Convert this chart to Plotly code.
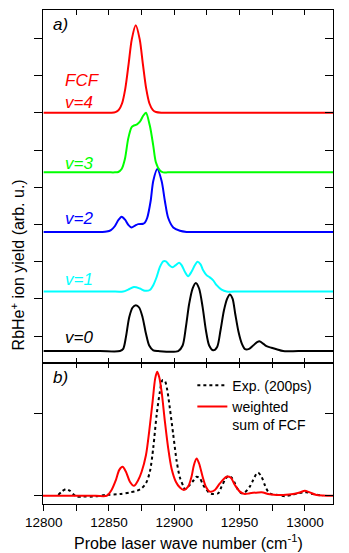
import plotly.graph_objects as go

FONT = "Liberation Sans, Arial, Helvetica, sans-serif"

# ---------------- axis values ----------------
WN_RANGE = [12799.5, 13021.5]
X_TICKS = [12800, 12825, 12850, 12875, 12900, 12925, 12950, 12975, 13000]
X_LABEL_TICKS = [12800, 12850, 12900, 12950, 13000]
X_TICK_TEXT = ["12800", "12850", "12900", "12950", "13000"]
YA_TICKS = [1, 2, 3, 4, 5, 6, 7, 8, 9]
YB_TICKS = [0, 1]
YA_RANGE = [0.274, 9.761]
YB_RANGE = [-0.10, 1.604]

# ---------------- panel a: FCF curves (height above own baseline) ----------------
v0_wn = [12800, 12843, 12858.4, 12860.9, 12863, 12865.5, 12868.1, 12870.6, 12873.1, 12875.7,
         12878.3, 12880.8, 12883.9, 12887.7, 12903, 12906.4, 12908.9, 12911.4, 12914, 12916.5,
         12919, 12921.7, 12924.2, 12926.7, 12929.8, 12932.8, 12935.4, 12938, 12940.5, 12942.5,
         12944.6, 12946.6, 12949.2, 12951.7, 12954.2, 12957.3, 12960.4, 12963.4, 12965.5, 12968,
         12970.6, 12974.4, 12978.3, 12983.3, 12995, 13021.5]
v0_h = [0, 0, 0, 0.06, 0.38, 0.91, 1.17, 1.23, 1.17, 0.91,
        0.47, 0.15, 0.02, 0, 0, 0.15, 0.65, 1.27, 1.68, 1.83,
        1.68, 1.18, 0.56, 0.15, 0.02, 0.11, 0.56, 1.09, 1.41, 1.52,
        1.41, 1.01, 0.51, 0.20, 0.05, 0.06, 0.15, 0.24, 0.26, 0.20,
        0.13, 0.09, 0.05, 0, 0, 0]

v1_wn = [12800, 12850.7, 12860.9, 12864.7, 12869.1, 12873.7, 12877.5, 12881.3, 12883.9, 12886.5,
         12889, 12891.5, 12893.6, 12896.1, 12898.7, 12901.2, 12903.7, 12905.6, 12908.1, 12910.6,
         12913.2, 12915.8, 12917.8, 12920.1, 12922.1, 12924.7, 12927.2, 12929.8, 12932.4, 12936.2,
         12940, 12950, 13021.5]
v1_h = [0, 0, 0, 0.05, 0.12, 0.08, 0.02, 0.04, 0.17, 0.39,
        0.66, 0.81, 0.81, 0.71, 0.65, 0.71, 0.77, 0.71, 0.53, 0.41,
        0.53, 0.71, 0.80, 0.73, 0.57, 0.44, 0.38, 0.30, 0.17, 0.05,
        0, 0, 0]

v2_wn = [12800, 12840, 12845, 12848.2, 12851.5, 12854.6, 12857.2, 12859.7, 12862.3, 12864.8,
         12867.3, 12870, 12872.4, 12876.2, 12877.5, 12879.3, 12881.9, 12883.9, 12887, 12890.3,
         12892.8, 12895.3, 12899.2, 12904.3, 12909.4, 12915, 13021.5]
v2_h = [0, 0, 0, 0.01, 0.05, 0.16, 0.32, 0.41, 0.33, 0.19,
        0.12, 0.17, 0.21, 0.22, 0.25, 0.38, 0.83, 1.37, 1.69, 1.37,
        0.83, 0.38, 0.12, 0.03, 0, 0, 0]

v3_wn = [12800, 12845, 12850, 12854.5, 12857.1, 12859.7, 12862.2, 12864.7, 12867.3, 12868.6,
         12871.2, 12873.7, 12876.2, 12878.3, 12881.3, 12883.9, 12885.9, 12889, 12891.5, 12895,
         12900, 13021.5]
v3_h = [0, 0, 0, 0, 0.01, 0.09, 0.36, 0.90, 1.21, 1.25,
        1.28, 1.36, 1.52, 1.60, 1.25, 0.72, 0.27, 0.05, 0, 0,
        0, 0]

v4_wn = [12800, 12840, 12848, 12852, 12855, 12857.5, 12860, 12862.5, 12865, 12867.5,
         12870.5, 12873.5, 12876, 12878.5, 12881, 12883.5, 12886, 12890, 12895, 13021.5]
v4_h = [0, 0, 0, 0, 0.02, 0.08, 0.25, 0.65, 1.30, 1.98,
        2.35, 1.98, 1.30, 0.65, 0.25, 0.08, 0.02, 0, 0, 0]

FCF_LABELS = ["v=0", "v=1", "v=2", "v=3", "v=4"]
FCF_SERIES = [(v0_wn, v0_h), (v1_wn, v1_h), (v2_wn, v2_h), (v3_wn, v3_h), (v4_wn, v4_h)]
FCF_OFFSETS = [0.6, 2.2, 3.8, 5.4, 7.0]
FCF_COLORS = ["#000000", "#00FFFF", "#0000FF", "#00FF00", "#FF0000"]
FCF_LABEL_Y = [0.97, 2.53, 4.17, 5.65, 7.29]

# ---------------- panel b ----------------
sum_wn = [12799.5, 12840, 12848.2, 12852.0, 12855.3, 12857.8, 12860.4, 12863.0, 12866.0, 12869.1,
          12872.4, 12875.0, 12878.3, 12880.8, 12883.4, 12885.4, 12886.9, 12888.4, 12890.3, 12892.8,
          12895.3, 12897.9, 12901.2, 12904.3, 12907.3, 12910.6, 12913.2, 12915.0, 12917.1, 12919.0,
          12921.7, 12924.2, 12927.2, 12931.1, 12934.9, 12940.0, 12943.1, 12946.4, 12950.2, 12954.0,
          12957.8, 12964.2, 12968.0, 12971.8, 12978.3, 12983.3, 12991.0, 12996.1, 12999.9, 13003.7,
          13008.9, 13021.5]
sum_y = [0, 0, 0, 0.07, 0.19, 0.31, 0.35, 0.29, 0.17, 0.12,
         0.19, 0.29, 0.49, 0.78, 1.14, 1.42, 1.50, 1.44, 1.26, 0.90,
         0.58, 0.33, 0.17, 0.10, 0.07, 0.11, 0.23, 0.37, 0.45, 0.39,
         0.23, 0.11, 0.05, 0.07, 0.15, 0.23, 0.22, 0.13, 0.05, 0.02,
         0.03, 0.04, 0.04, 0.02, 0.01, 0.01, 0.02, 0.04, 0.06, 0.04,
         0.01, 0]

exp_wn = [12811.2, 12813.8, 12817.1, 12820.1, 12822.6, 12825.2, 12830.3, 12837.9, 12848.2, 12858.4,
          12866.0, 12871.2, 12875.0, 12878.3, 12881.3, 12883.9, 12886.5, 12889.0, 12891.0, 12892.8,
          12894.6, 12896.6, 12899.2, 12901.8, 12904.3, 12906.8, 12908.1, 12910.6, 12914.0, 12917.1,
          12919.6, 12922.1, 12924.7, 12927.2, 12929.8, 12933.6, 12936.2, 12938.7, 12941.2, 12943.8,
          12946.4, 12948.9, 12951.5, 12954.0, 12957.8, 12960.4, 12963.0, 12964.2, 12966.8, 12969.3,
          12971.8, 12974.4, 12979.5, 12984.6, 12989.7, 12994.8, 12998.6, 13002.4, 13006.3, 13010.1,
          13013.9]
exp_y = [0.01, 0.05, 0.08, 0.06, 0.02, -0.01, -0.01, -0.01, 0.01, 0.02,
         0.04, 0.06, 0.09, 0.15, 0.29, 0.58, 0.98, 1.26, 1.40, 1.39,
         1.28, 1.06, 0.74, 0.42, 0.22, 0.12, 0.08, 0.11, 0.17, 0.23,
         0.21, 0.13, 0.07, 0.03, 0.02, 0.03, 0.11, 0.19, 0.24, 0.22,
         0.15, 0.07, 0.03, 0.04, 0.11, 0.19, 0.27, 0.28, 0.23, 0.13,
         0.05, 0.02, 0.01, -0.005, 0.01, 0.03, 0.04, 0.04, 0.02, 0.01,
         0]

fig = go.Figure()

for (wn, h), off, col in zip(FCF_SERIES, FCF_OFFSETS, FCF_COLORS):
    fig.add_trace(go.Scatter(x=wn, y=[v + off for v in h], mode="lines",
                             line=dict(color=col, width=2, shape="spline", smoothing=0.8),
                             xaxis="x2", yaxis="y", showlegend=False, hoverinfo="skip"))

fig.add_trace(go.Scatter(x=exp_wn, y=exp_y, mode="lines", name="Exp. (200ps)",
                         line=dict(color="black", width=2, dash="dot", shape="spline", smoothing=0.8),
                         xaxis="x", yaxis="y2"))
fig.add_trace(go.Scatter(x=sum_wn, y=sum_y, mode="lines", name="weighted<br>sum of FCF",
                         line=dict(color="#FF0000", width=2, shape="spline", smoothing=0.8),
                         xaxis="x", yaxis="y2"))

# empty traces to instantiate overlay (mirror-tick) axes
fig.add_trace(go.Scatter(x=[None], y=[None], xaxis="x2", yaxis="y3", showlegend=False, hoverinfo="skip"))
fig.add_trace(go.Scatter(x=[None], y=[None], xaxis="x", yaxis="y4", showlegend=False, hoverinfo="skip"))
fig.add_trace(go.Scatter(x=[None], y=[None], xaxis="x3", yaxis="y2", showlegend=False, hoverinfo="skip"))

YB = 0.285
common = dict(showgrid=False, zeroline=False, linecolor="black", linewidth=1.3,
              tickcolor="black", tickwidth=1)

# the page body adds an 8px margin, so the figure is sized to fit the 349x553 window
fig.update_layout(
    width=341, height=545,
    margin=dict(l=35, r=16, t=2, b=49),
    paper_bgcolor="white", plot_bgcolor="white",
    font=dict(family=FONT, color="black", size=13.5),
    xaxis=dict(domain=[0, 1], anchor="y2", range=WN_RANGE, tickmode="array",
               tickvals=X_LABEL_TICKS, ticktext=X_TICK_TEXT, ticks="outside", ticklen=6,
               minor=dict(tickmode="array", tickvals=X_TICKS, ticks="outside", ticklen=6,
                          tickcolor="black", tickwidth=1, showgrid=False),
               showline=True, tickfont=dict(size=13.5), **common),
    xaxis3=dict(overlaying="x", anchor="y2", side="top", range=WN_RANGE, tickmode="array",
                tickvals=X_TICKS, ticks="inside", ticklen=5, showticklabels=False,
                showline=True, **common),
    xaxis2=dict(domain=[0, 1], anchor="y", range=WN_RANGE, tickmode="array",
                tickvals=X_TICKS, ticks="inside", ticklen=5, mirror="ticks",
                showline=True, showticklabels=False, **common),
    yaxis=dict(domain=[YB, 1], anchor="x2", range=YA_RANGE, tickmode="array",
               tickvals=YA_TICKS, ticks="outside", ticklen=8, showticklabels=False,
               showline=True, mirror=True, **common),
    yaxis3=dict(overlaying="y", anchor="x2", side="right", range=YA_RANGE, tickmode="array",
                tickvals=YA_TICKS, ticks="inside", ticklen=8, showticklabels=False,
                showline=True, **common),
    yaxis2=dict(domain=[0, YB], anchor="x", range=YB_RANGE, tickmode="array",
                tickvals=YB_TICKS, ticks="outside", ticklen=8, showticklabels=False,
                showline=True, mirror=True, **common),
    yaxis4=dict(overlaying="y2", anchor="x", side="right", range=YB_RANGE, tickmode="array",
                tickvals=YB_TICKS, ticks="inside", ticklen=8, showticklabels=False,
                showline=True, **common),
    legend=dict(x=0.515, y=0.272, xanchor="left", yanchor="top", bgcolor="rgba(0,0,0,0)",
                font=dict(size=14, family=FONT), valign="top", tracegroupgap=0,
                itemwidth=30),
)

ann = []
ann.append(dict(text="<i>a)</i>", x=12806, y=9.36, xref="x2", yref="y", showarrow=False,
                xanchor="left", yanchor="middle", font=dict(size=17, color="black")))
ann.append(dict(text="<i>b)</i>", x=12806, y=1.43, xref="x", yref="y2", showarrow=False,
                xanchor="left", yanchor="middle", font=dict(size=17, color="black")))
ann.append(dict(text="<i>FCF</i>", x=12814.5, y=7.88, xref="x2", yref="y", showarrow=False,
                xanchor="left", yanchor="middle", font=dict(size=17, color="#FF0000")))
for lab, ly, col in zip(FCF_LABELS, FCF_LABEL_Y, FCF_COLORS):
    ann.append(dict(text="<i>" + lab + "</i>", x=12814.5, y=ly, xref="x2", yref="y",
                    showarrow=False, xanchor="left", yanchor="middle",
                    font=dict(size=17, color=col)))
ann.append(dict(text="Probe laser wave number (cm<sup>-1</sup>)", x=0.5, y=-0.0763,
                xref="paper", yref="paper", showarrow=False, xanchor="center",
                yanchor="middle", font=dict(size=16)))
ann.append(dict(text="RbHe<sup>+</sup> ion yield (arb. u.)", x=-0.0862, y=0.483,
                xref="paper", yref="paper", showarrow=False, textangle=-90, borderpad=0,
                xanchor="center", yanchor="middle", font=dict(size=16)))
fig.update_layout(annotations=ann)

fig.write_html("out.html")
